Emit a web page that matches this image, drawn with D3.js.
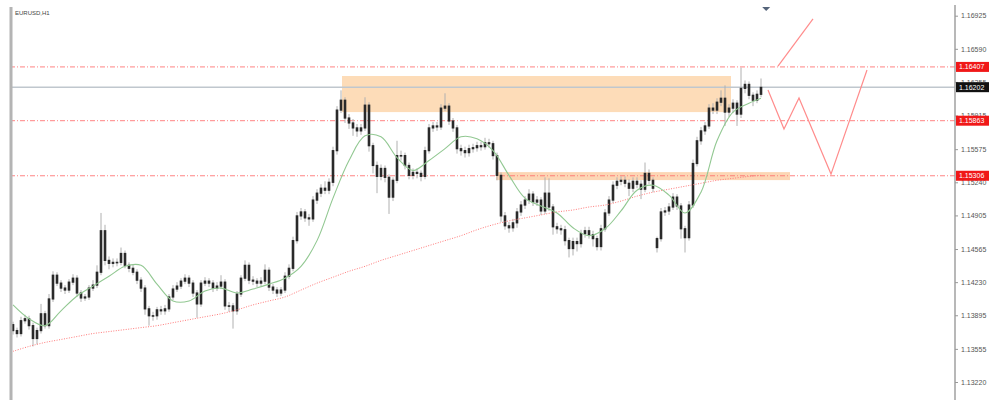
<!DOCTYPE html>
<html><head><meta charset="utf-8">
<script src="https://cdn.jsdelivr.net/npm/d3@7/dist/d3.min.js"></script>
<style>html,body{margin:0;padding:0;background:#fff;}svg{display:block;font-family:"Liberation Sans",Arial,sans-serif;}</style>
</head><body><div id="chart"></div>
<script>
const title = "EURUSD,H1";
const opens = [1.1380,1.1374,1.1371,1.1384,1.1386,1.1379,1.1366,1.1374,1.1391,1.1379,
1.1406,1.1430,1.1422,1.1417,1.1415,1.1423,1.1427,1.1412,1.1407,1.1408,
1.1417,1.1420,1.1433,1.1475,1.1445,1.1442,1.1443,1.1443,1.1452,1.1440,
1.1437,1.1433,1.1425,1.1417,1.1396,1.1389,1.1389,1.1395,1.1394,1.1396,
1.1408,1.1416,1.1419,1.1424,1.1427,1.1422,1.1412,1.1401,1.1422,1.1424,
1.1422,1.1417,1.1419,1.1423,1.1399,1.1399,1.1394,1.1411,1.1427,1.1440,
1.1425,1.1424,1.1422,1.1424,1.1435,1.1418,1.1415,1.1412,1.1415,1.1429,
1.1437,1.1465,1.1490,1.1494,1.1488,1.1487,1.1506,1.1513,1.1518,1.1516,
1.1524,1.1556,1.1597,1.1607,1.1589,1.1584,1.1579,1.1576,1.1579,1.1602,
1.1561,1.1541,1.1530,1.1538,1.1529,1.1509,1.1526,1.1551,1.1551,1.1541,
1.1531,1.1534,1.1533,1.1530,1.1556,1.1579,1.1581,1.1580,1.1599,1.1601,
1.1586,1.1579,1.1558,1.1556,1.1554,1.1558,1.1559,1.1561,1.1560,1.1564,
1.1563,1.1551,1.1531,1.1490,1.1480,1.1478,1.1483,1.1494,1.1501,1.1506,
1.1512,1.1504,1.1506,1.1495,1.1513,1.1499,1.1479,1.1477,1.1476,1.1465,
1.1457,1.1464,1.1462,1.1472,1.1475,1.1471,1.1467,1.1459,1.1477,1.1493,
1.1506,1.1521,1.1525,1.1526,1.1523,1.1518,1.1525,1.1522,1.1517,1.1533,
1.1526,1.1458,1.1467,1.1494,1.1495,1.1499,1.1509,1.1500,1.1477,1.1468,
1.1501,1.1543,1.1566,1.1576,1.1581,1.1599,1.1597,1.1605,1.1609,1.1595,
1.1599,1.1604,1.1593,1.1619,1.1623,1.1612,1.1607,1.1613];
const highs = [1.1383,1.1377,1.1388,1.1390,1.1389,1.1382,1.1377,1.1401,1.1394,1.1411,
1.1434,1.1433,1.1425,1.1420,1.1426,1.1431,1.1430,1.1415,1.1411,1.1420,
1.1425,1.1440,1.1493,1.1481,1.1449,1.1447,1.1447,1.1458,1.1455,1.1443,
1.1441,1.1436,1.1428,1.1420,1.1399,1.1393,1.1398,1.1399,1.1400,1.1411,
1.1420,1.1423,1.1427,1.1431,1.1430,1.1425,1.1415,1.1425,1.1428,1.1427,
1.1425,1.1423,1.1430,1.1426,1.1403,1.1402,1.1414,1.1430,1.1445,1.1443,
1.1429,1.1427,1.1428,1.1441,1.1438,1.1421,1.1418,1.1418,1.1433,1.1441,
1.1469,1.1494,1.1498,1.1497,1.1492,1.1510,1.1517,1.1522,1.1525,1.1528,
1.1560,1.1601,1.1617,1.1610,1.1593,1.1588,1.1583,1.1583,1.1610,1.1605,
1.1564,1.1545,1.1542,1.1541,1.1532,1.1529,1.1566,1.1556,1.1554,1.1544,
1.1538,1.1538,1.1536,1.1560,1.1583,1.1585,1.1585,1.1603,1.1614,1.1604,
1.1589,1.1582,1.1562,1.1560,1.1562,1.1563,1.1565,1.1565,1.1569,1.1568,
1.1566,1.1554,1.1534,1.1494,1.1484,1.1487,1.1498,1.1505,1.1510,1.1517,
1.1515,1.1510,1.1509,1.1529,1.1528,1.1502,1.1483,1.1481,1.1480,1.1468,
1.1468,1.1468,1.1476,1.1479,1.1479,1.1475,1.1470,1.1481,1.1497,1.1510,
1.1525,1.1529,1.1530,1.1530,1.1527,1.1529,1.1529,1.1526,1.1544,1.1537,
1.1529,1.1469,1.1498,1.1499,1.1503,1.1513,1.1512,1.1503,1.1480,1.1505,
1.1547,1.1570,1.1580,1.1585,1.1603,1.1604,1.1609,1.1617,1.1622,1.1603,
1.1608,1.1607,1.1640,1.1627,1.1626,1.1615,1.1617,1.1629];
const lows = [1.1370,1.1367,1.1368,1.1381,1.1375,1.1358,1.1360,1.1371,1.1376,1.1376,
1.1403,1.1419,1.1413,1.1411,1.1412,1.1420,1.1408,1.1403,1.1404,1.1405,
1.1414,1.1417,1.1430,1.1440,1.1436,1.1438,1.1439,1.1440,1.1437,1.1433,
1.1430,1.1421,1.1413,1.1390,1.1379,1.1384,1.1385,1.1390,1.1390,1.1393,
1.1405,1.1413,1.1416,1.1421,1.1418,1.1408,1.1387,1.1398,1.1419,1.1418,
1.1413,1.1414,1.1416,1.1395,1.1393,1.1376,1.1390,1.1408,1.1424,1.1421,
1.1420,1.1418,1.1419,1.1421,1.1414,1.1411,1.1408,1.1409,1.1412,1.1426,
1.1434,1.1462,1.1486,1.1484,1.1480,1.1484,1.1502,1.1509,1.1512,1.1512,
1.1520,1.1552,1.1594,1.1584,1.1578,1.1571,1.1570,1.1572,1.1576,1.1555,
1.1533,1.1513,1.1526,1.1524,1.1492,1.1505,1.1523,1.1546,1.1537,1.1527,
1.1527,1.1528,1.1525,1.1527,1.1553,1.1575,1.1576,1.1577,1.1596,1.1582,
1.1575,1.1553,1.1551,1.1549,1.1550,1.1554,1.1555,1.1556,1.1557,1.1559,
1.1547,1.1526,1.1484,1.1476,1.1473,1.1474,1.1478,1.1490,1.1497,1.1502,
1.1500,1.1500,1.1491,1.1492,1.1495,1.1471,1.1472,1.1471,1.1460,1.1448,
1.1450,1.1454,1.1458,1.1468,1.1467,1.1459,1.1455,1.1455,1.1474,1.1490,
1.1503,1.1517,1.1521,1.1519,1.1510,1.1514,1.1518,1.1507,1.1514,1.1522,
1.1514,1.1453,1.1464,1.1490,1.1491,1.1496,1.1496,1.1467,1.1453,1.1465,
1.1498,1.1540,1.1562,1.1572,1.1578,1.1593,1.1593,1.1601,1.1581,1.1590,
1.1594,1.1581,1.1589,1.1614,1.1608,1.1601,1.1604,1.1610];
const closes = [1.1374,1.1371,1.1384,1.1386,1.1379,1.1366,1.1374,1.1391,1.1379,1.1406,
1.1430,1.1422,1.1417,1.1415,1.1423,1.1427,1.1412,1.1407,1.1408,1.1417,
1.1420,1.1433,1.1475,1.1445,1.1442,1.1443,1.1443,1.1452,1.1440,1.1437,
1.1433,1.1425,1.1417,1.1396,1.1389,1.1389,1.1395,1.1394,1.1396,1.1408,
1.1416,1.1419,1.1424,1.1427,1.1422,1.1412,1.1401,1.1422,1.1424,1.1422,
1.1417,1.1419,1.1423,1.1399,1.1399,1.1394,1.1411,1.1427,1.1440,1.1425,
1.1424,1.1422,1.1424,1.1435,1.1418,1.1415,1.1412,1.1415,1.1429,1.1437,
1.1465,1.1490,1.1494,1.1488,1.1487,1.1506,1.1513,1.1518,1.1516,1.1524,
1.1556,1.1597,1.1607,1.1589,1.1584,1.1579,1.1576,1.1579,1.1602,1.1561,
1.1541,1.1530,1.1538,1.1529,1.1509,1.1526,1.1551,1.1551,1.1541,1.1531,
1.1534,1.1533,1.1530,1.1556,1.1579,1.1581,1.1580,1.1599,1.1601,1.1586,
1.1579,1.1558,1.1556,1.1554,1.1558,1.1559,1.1561,1.1560,1.1564,1.1563,
1.1551,1.1531,1.1490,1.1480,1.1478,1.1483,1.1494,1.1501,1.1506,1.1512,
1.1504,1.1506,1.1495,1.1513,1.1499,1.1479,1.1477,1.1476,1.1465,1.1457,
1.1464,1.1462,1.1472,1.1475,1.1471,1.1467,1.1459,1.1477,1.1493,1.1506,
1.1521,1.1525,1.1526,1.1523,1.1518,1.1525,1.1522,1.1517,1.1533,1.1526,
1.1518,1.1467,1.1494,1.1495,1.1499,1.1509,1.1500,1.1477,1.1468,1.1501,
1.1543,1.1566,1.1576,1.1581,1.1599,1.1597,1.1605,1.1609,1.1595,1.1599,
1.1604,1.1593,1.1619,1.1623,1.1612,1.1607,1.1613,1.1620];

// moving averages read at candle indexes
const maIndex = [0,4,8,12,16,20,24,28,32,36,40,44,48,52,56,60,64,68,72,76,80,84,88,92,96,100,104,108,112,116,120,124,128,132,136,140,144,148,152,156,160,164,168,172,176,180,184,187];
const maFast = [1.1400,1.1386,1.1379,1.1394,1.1409,1.1419,1.1429,1.1439,1.1440,1.1421,1.1404,1.1404,1.1414,1.1417,1.1412,1.1416,1.1421,1.1427,1.1439,1.1465,1.1508,1.1546,1.1571,1.1570,1.1549,1.1536,1.1546,1.1558,1.1570,1.1568,1.1556,1.1531,1.1508,1.1500,1.1493,1.1478,1.1470,1.1477,1.1495,1.1516,1.1521,1.1511,1.1493,1.1514,1.1566,1.1595,1.1604,1.1609];
const maSlow = [1.1353,1.1358,1.1362,1.1365,1.1368,1.1371,1.1373,1.1375,1.1377,1.1379,1.1382,1.1385,1.1388,1.1391,1.1395,1.1400,1.1404,1.1408,1.1415,1.1422,1.1428,1.1434,1.1439,1.1445,1.1450,1.1455,1.1460,1.1465,1.1470,1.1476,1.1481,1.1485,1.1488,1.1491,1.1494,1.1496,1.1499,1.1501,1.1505,1.1510,1.1514,1.1517,1.1520,1.1523,1.1526,1.1528,1.1530,1.1531];

const tickLabels = ["1.16925","1.16590","1.16255","1.15915","1.15575","1.15240","1.14905","1.14565","1.14230","1.13895","1.13555","1.13220"];
const levelPrices = [1.16407, 1.15863, 1.15306];
const levelLabels = ["1.16407","1.15863","1.15306"];
const bidPrice = 1.16202;
const bidLabel = "1.16202";
// zones: start/end candle index, low/high price
const zoneStart = [82.25, 120.75];
const zoneEnd = [179.5, 194.25];
const zoneLow = [1.15950, 1.15262];
const zoneHigh = [1.16315, 1.15343];
// projected paths (index, price)
const projZigIdx = [188.75, 192.75, 196.5, 204.5, 213.5];
const projZigPrice = [1.16173, 1.15778, 1.16092, 1.15323, 1.16376];
const projUpIdx = [191.25, 200];
const projUpPrice = [1.16416, 1.16892];
const markerIdx = 188.3;

const W = 1000, H = 408;
const svg = d3.select("#chart").append("svg").attr("width", W).attr("height", H);

const x = d3.scaleLinear().domain([0, 187]).range([13, 761]);
const y = d3.scaleLinear().domain([1.13220, 1.16925]).range([382, 15.7]);
const xLeft = 10, xRight = 955;

// zones
svg.append("g").selectAll("rect").data(zoneStart).join("rect")
  .attr("x", (d, i) => x(d)).attr("width", (d, i) => x(zoneEnd[i]) - x(d))
  .attr("y", (d, i) => y(zoneHigh[i])).attr("height", (d, i) => y(zoneLow[i]) - y(zoneHigh[i]))
  .attr("fill", (d, i) => i === 0 ? "#fddcb8" : "#fcd6b4");

// bid line
svg.append("line").attr("x1", xLeft).attr("x2", xRight).attr("y1", y(bidPrice)).attr("y2", y(bidPrice))
  .attr("stroke", "#c0c7ce").attr("stroke-width", 1.5);

// level lines
svg.append("g").selectAll("line").data(levelPrices).join("line")
  .attr("x1", xLeft).attr("x2", xRight).attr("y1", d => y(d)).attr("y2", d => y(d))
  .attr("stroke", "#ff6e6e").attr("stroke-opacity", 0.85).attr("stroke-width", 1).attr("stroke-dasharray", "5,2,1,2");

// candles
const cg = svg.append("g");
closes.forEach((c, i) => {
  cg.append("line").attr("x1", x(i)).attr("x2", x(i)).attr("y1", y(highs[i])).attr("y2", y(lows[i]))
    .attr("stroke", "#b0b0b0").attr("stroke-width", 1);
});
closes.forEach((c, i) => {
  const o = opens[i];
  const top = y(Math.max(o, c)), bot = y(Math.min(o, c));
  cg.append("rect").attr("x", x(i) - 1.3).attr("width", 2.6)
    .attr("y", top - 0.6).attr("height", Math.max(1.6, bot - top + 1.2))
    .attr("fill", "#2a2a2a");
});

// moving averages
const maLine = d3.line().x(d => x(d[0])).y(d => y(d[1])).curve(d3.curveCatmullRom);
svg.append("path").datum(maIndex.map((d, i) => [d, maSlow[i]])).attr("d", maLine)
  .attr("fill", "none").attr("stroke", "#ff7a7a").attr("stroke-width", 1).attr("stroke-dasharray", "1,1.5");
svg.append("path").datum(maIndex.map((d, i) => [d, maFast[i]])).attr("d", maLine)
  .attr("fill", "none").attr("stroke", "#92c892").attr("stroke-width", 1.1);

// projections
const pLine = d3.line().x(d => x(d[0])).y(d => y(d[1]));
svg.append("path").datum(projZigIdx.map((d, i) => [d, projZigPrice[i]])).attr("d", pLine)
  .attr("fill", "none").attr("stroke", "#ff8c8c").attr("stroke-width", 1.2);
svg.append("path").datum(projUpIdx.map((d, i) => [d, projUpPrice[i]])).attr("d", pLine)
  .attr("fill", "none").attr("stroke", "#ff8c8c").attr("stroke-width", 1.2);

// marker triangle
const mx = x(markerIdx);
svg.append("path").attr("d", `M${mx - 4},7 L${mx + 4},7 L${mx},11 Z`).attr("fill", "#55647a");

// borders
svg.append("rect").attr("x", 9.5).attr("y", 7).attr("width", 3).attr("height", 393).attr("fill", "#b4b4b4");
svg.append("line").attr("x1", xRight).attr("x2", xRight).attr("y1", 5).attr("y2", 400)
  .attr("stroke", "#a0a0a0").attr("stroke-width", 1.5);

// axis
const axis = d3.axisRight(y).tickValues(tickLabels.map(Number))
  .tickFormat((d, i) => tickLabels[i]).tickSize(3).tickPadding(3);
const ag = svg.append("g").attr("transform", `translate(${xRight},0)`).call(axis);
ag.select(".domain").remove();
ag.selectAll(".tick line").attr("stroke", "#999");
ag.selectAll(".tick text").attr("fill", "#555").attr("font-size", 7)
  .attr("font-family", "Liberation Sans, Arial, sans-serif");

// price labels
const lab = svg.append("g");
const allLabPrices = levelPrices.concat([bidPrice]);
const allLabText = levelLabels.concat([bidLabel]);
allLabPrices.forEach((p, i) => {
  const isBid = i === allLabPrices.length - 1;
  lab.append("rect").attr("x", 956).attr("y", y(p) - 5).attr("width", 33).attr("height", 10)
    .attr("fill", isBid ? "#111" : "#f01818");
  lab.append("text").attr("x", 959).attr("y", y(p) + 2.5).attr("font-size", 7)
    .attr("fill", "#fff").text(allLabText[i]);
});

// title
svg.append("text").attr("x", 15).attr("y", 15).attr("font-size", 6).attr("fill", "#444").text(title);
</script>
</body></html>
